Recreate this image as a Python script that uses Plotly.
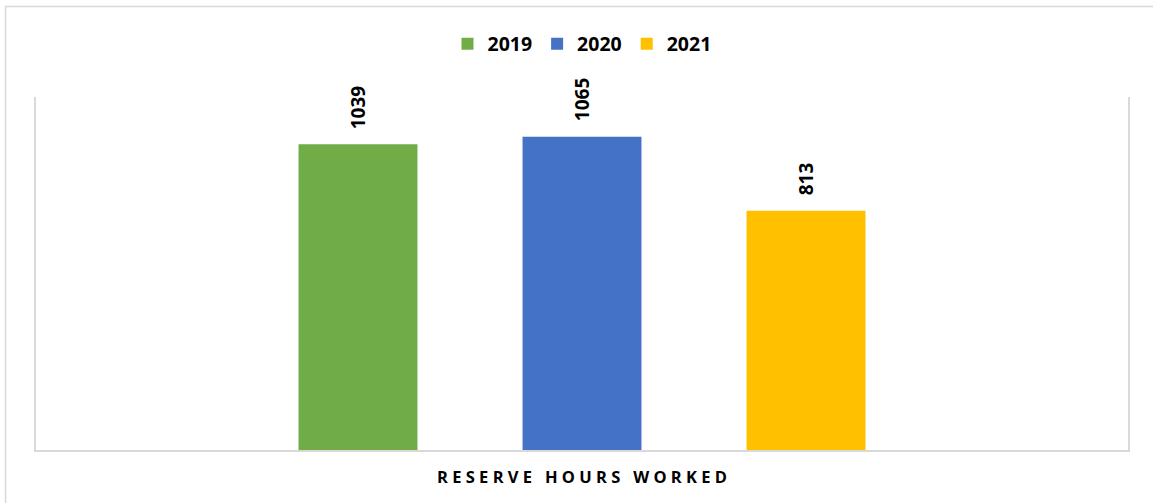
import plotly.graph_objects as go

# Reserve hours worked per year
category = "RESERVE HOURS WORKED"
years = ["2019", "2020", "2021"]
hours = [1039, 1065, 813]
colors = ["#70AD47", "#4472C4", "#FFC000"]

BARGAP = 0.3846
BARGROUPGAP = 0.469
NUM_FONT = "Open Sans, sans-serif"

fig = go.Figure()
for yr, h, c in zip(years, hours, colors):
    fig.add_trace(go.Bar(
        name=yr, x=[category], y=[h],
        marker=dict(color=c, line=dict(width=0)),
    ))

# Vertical value labels above each bar
slot = (1 - BARGAP) / len(years)
for i, h in enumerate(hours):
    fig.add_annotation(
        x=(i - (len(years) - 1) / 2) * slot, y=h,
        xref="x", yref="y",
        text=f"<b>{h}</b>", textangle=-90,
        showarrow=False, yanchor="bottom", yshift=13,
        font=dict(family=NUM_FONT, size=19, color="#000000"),
    )

# Outer chart border
fig.add_shape(type="rect", xref="paper", yref="paper",
              x0=-0.0279, x1=1.05, y0=-0.2, y1=1.2564,
              line=dict(color="#D9D9D9", width=1.5), fillcolor="rgba(0,0,0,0)",
              layer="below")

label = "   ".join(" ".join(w) for w in category.split(" "))

fig.update_layout(
    width=1153, height=503,
    margin=dict(l=36, r=25, t=97, b=53),
    paper_bgcolor="white", plot_bgcolor="white",
    barmode="group", bargap=BARGAP, bargroupgap=BARGROUPGAP,
    showlegend=True,
    legend=dict(orientation="h", x=0.5, xanchor="center", y=1.15, yanchor="middle",
                font=dict(family=NUM_FONT, size=19.5, color="#000000", weight="bold"),
                itemwidth=30, tracegroupgap=0, bgcolor="rgba(0,0,0,0)"),
    xaxis=dict(
        type="category", range=[-0.5, 0.5],
        tickvals=[category], ticktext=[f"<b>{label}</b>"],
        tickfont=dict(family="Open Sans, sans-serif", size=16.5, color="#000000"),
        showline=True, linecolor="#D9D9D9", linewidth=1.5, mirror=False,
        showgrid=False, ticks="", ticklabelstandoff=11,
    ),
    yaxis=dict(
        range=[0, 1200], showticklabels=False, showgrid=False, zeroline=False,
        showline=True, linecolor="#D9D9D9", linewidth=1.5, mirror=True, ticks="",
    ),
)

fig.write_html("out.html")
